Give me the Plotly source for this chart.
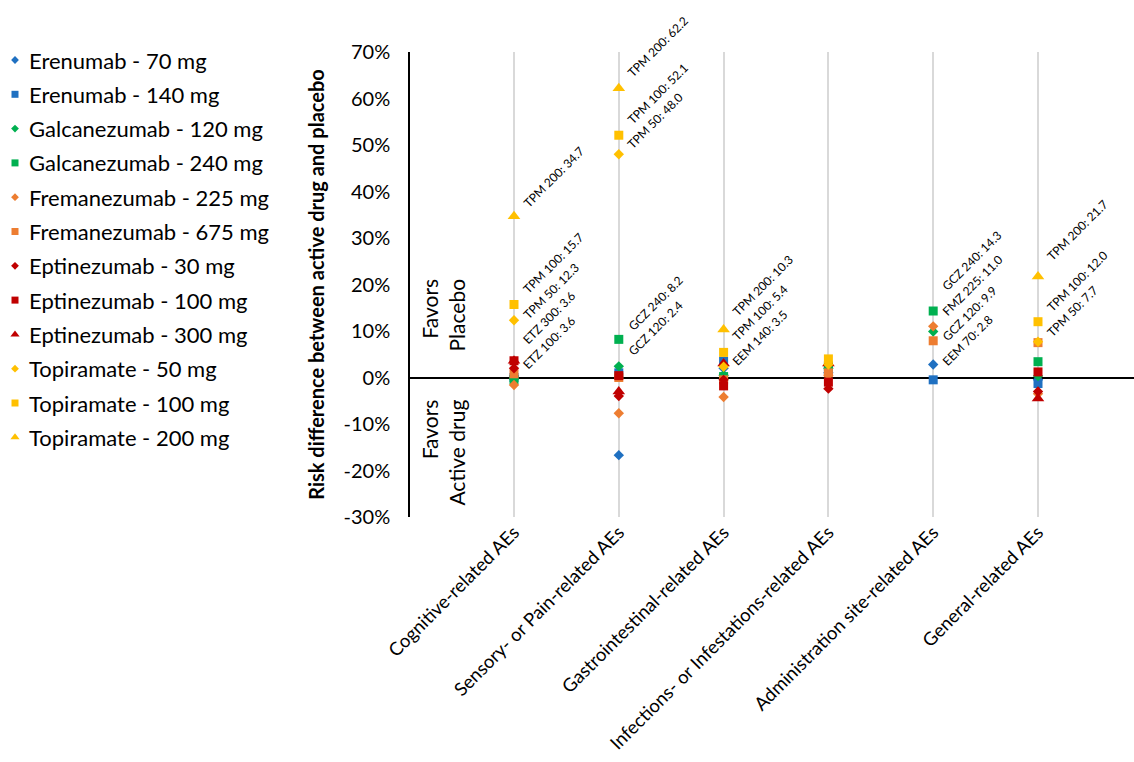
import plotly.graph_objects as go

# ---------------- data ----------------
categories = [
    "Cognitive-related AEs",
    "Sensory- or Pain-related AEs",
    "Gastrointestinal-related AEs",
    "Infections- or Infestations-related AEs",
    "Administration site-related AEs",
    "General-related AEs",
]

erenumab_70 = [0.3, -16.7, 2.0, 1.0, 2.8, -0.5]
erenumab_140 = [0.0, 1.0, 3.5, 1.5, -0.5, -1.3]
galcanezumab_120 = [-0.3, 2.4, 0.5, 2.0, 9.9, 0.3]
galcanezumab_240 = [-0.5, 8.2, 0.2, 2.5, 14.3, 3.4]
fremanezumab_225 = [-1.6, -7.7, -4.2, 0.5, 11.0, -3.5]
fremanezumab_675 = [0.8, 0.0, -0.5, 1.0, 7.9, 7.5]
eptinezumab_30 = [2.0, -4.0, -0.5, -2.4, None, -3.0]
eptinezumab_100 = [3.6, 0.4, -1.8, -1.0, None, 1.2]
eptinezumab_300 = [3.6, -3.0, 3.0, 3.0, None, -4.5]
topiramate_50 = [12.3, 48.0, 2.3, 2.8, None, 7.7]
topiramate_100 = [15.7, 52.1, 5.4, 4.0, None, 12.0]
topiramate_200 = [34.7, 62.2, 10.3, None, None, 21.7]

series_names = [
    "Erenumab - 70 mg", "Erenumab - 140 mg",
    "Galcanezumab - 120 mg", "Galcanezumab - 240 mg",
    "Fremanezumab - 225 mg", "Fremanezumab - 675 mg",
    "Eptinezumab - 30 mg", "Eptinezumab - 100 mg", "Eptinezumab - 300 mg",
    "Topiramate - 50 mg", "Topiramate - 100 mg", "Topiramate - 200 mg",
]
series_values = [
    erenumab_70, erenumab_140, galcanezumab_120, galcanezumab_240,
    fremanezumab_225, fremanezumab_675, eptinezumab_30, eptinezumab_100,
    eptinezumab_300, topiramate_50, topiramate_100, topiramate_200,
]
series_abbr = ["EEM 70", "EEM 140", "GCZ 120", "GCZ 240", "FMZ 225", "FMZ 675",
               "ETZ 30", "ETZ 100", "ETZ 300", "TPM 50", "TPM 100", "TPM 200"]

y_tick_values = [-30, -20, -10, 0, 10, 20, 30, 40, 50, 60, 70]
y_tick_labels = ["-30%", "-20%", "-10%", "0%", "10%", "20%", "30%", "40%", "50%", "60%", "70%"]

# labelled points: (category index, [series indices top->bottom], pixel offset)
label_blocks = [
    (0, [11], 3),
    (0, [10, 9, 8, 7], -14),
    (1, [11], 6),
    (1, [10, 9], 0),
    (1, [3, 2], 5),
    (2, [11, 10, 1], -10),
    (4, [3, 4, 2, 0], -7),
    (5, [11], 10),
    (5, [10, 9], -1),
]

# ---------------- styles ----------------
BLUE, GREEN, ORANGE, RED, YELLOW = "#1F70C1", "#00B050", "#ED7D31", "#C00000", "#FFC000"
styles = [
    (BLUE, "diamond", 8), (BLUE, "square", 9),
    (GREEN, "diamond", 8), (GREEN, "square", 9),
    (ORANGE, "diamond", 8), (ORANGE, "square", 9),
    (RED, "diamond", 8), (RED, "square", 9), (RED, "triangle-up", 11),
    (YELLOW, "diamond", 8), (YELLOW, "square", 9), (YELLOW, "triangle-up", 11),
]
legend_sizes = {"diamond": 6, "square": 7, "triangle-up": 8}
FONT = "Lato, Carlito, Calibri, sans-serif"
W, H = 1134, 762
PLOT_L, PLOT_T, PLOT_B = 410, 52, 517
LEG_X, LEG_TX, LEG_Y0, LEG_DY = 15, 27, 60, 34.3
LEG_W = 340

x_pos = list(range(1, len(categories) + 1))

fig = go.Figure()
for i, (name, vals) in enumerate(zip(series_names, series_values)):
    color, symbol, size = styles[i]
    fig.add_trace(go.Scatter(
        x=x_pos, y=vals, mode="markers", name=name, showlegend=False,
        marker=dict(color=color, symbol=symbol, size=size, line=dict(width=0)),
    ))

# manual legend (pixel-unit helper axes)
for i, name in enumerate(series_names):
    color, symbol, size = styles[i]
    yy = LEG_Y0 + LEG_DY * i
    fig.add_trace(go.Scatter(
        x=[LEG_X], y=[yy], xaxis="x2", yaxis="y2", mode="markers", showlegend=False,
        hoverinfo="skip",
        marker=dict(color=color, symbol=symbol, size=legend_sizes[symbol], line=dict(width=0)),
    ))
    fig.add_annotation(x=LEG_TX, y=yy, xref="x2", yref="y2", text=name, showarrow=False,
                       xanchor="left", yanchor="middle",
                       font=dict(family=FONT, size=22, color="#000000"))

# data labels
SPACING = 25
for cat, idxs, off in label_blocks:
    last = idxs[-1]
    base_val = series_values[last][cat]
    n = len(idxs)
    for j, si in enumerate(idxs):
        v = series_values[si][cat]
        fig.add_annotation(
            x=x_pos[cat], y=base_val, xref="x", yref="y",
            text=f"{series_abbr[si]}: {v:.1f}",
            textangle=-45, showarrow=False,
            xanchor="left", yanchor="bottom",
            xshift=3, yshift=off + SPACING * (n - 1 - j),
            font=dict(family=FONT, size=12, color="#000000"),
        )

# favors annotations
fig.add_annotation(x=0.32, y=13.5, xref="x", yref="y", text="Favors<br>Placebo",
                   textangle=-90, showarrow=False, align="right",
                   font=dict(family=FONT, size=21, color="#000000"))
fig.add_annotation(x=0.32, y=-16.2, xref="x", yref="y", text="Favors<br>Active drug",
                   textangle=-90, showarrow=False, align="right",
                   font=dict(family=FONT, size=21, color="#000000"))

fig.update_layout(
    width=W, height=H,
    margin=dict(l=0, r=0, t=0, b=0, pad=0, autoexpand=False),
    plot_bgcolor="white", paper_bgcolor="white",
    font=dict(family=FONT, color="#000000"),
    showlegend=False,
    xaxis=dict(
        domain=[PLOT_L / W, 1.0],
        range=[0.0076, 6.916], tickmode="array", tickvals=x_pos, ticktext=categories,
        tickangle=-45, showgrid=True, gridcolor="#D9D9D9", gridwidth=2,
        zeroline=False, showline=False, ticks="", automargin=False,
        tickfont=dict(family=FONT, size=18.5, color="#000000"),
    ),
    yaxis=dict(
        domain=[(H - PLOT_B) / H, (H - PLOT_T) / H],
        range=[-30, 70], tickmode="array", tickvals=y_tick_values, ticktext=y_tick_labels,
        showgrid=False, zeroline=True, zerolinecolor="#000000", zerolinewidth=1.5,
        showline=True, linecolor="#000000", linewidth=1.5, automargin=False,
        ticks="outside", ticklen=14, tickcolor="rgba(0,0,0,0)",
        tickfont=dict(family=FONT, size=20, color="#000000"),
        title=dict(text="<b>Risk difference between active drug and placebo</b>",
                   font=dict(family=FONT, size=20, color="#000000"), standoff=14),
    ),
    xaxis2=dict(domain=[0, LEG_W / W], range=[0, LEG_W], visible=False, fixedrange=True,
                anchor="y2"),
    yaxis2=dict(domain=[0, 1], range=[H, 0], visible=False, fixedrange=True,
                anchor="x2"),
)

fig.write_html("out.html", config={"displayModeBar": False},
               post_script="document.body.style.margin='0';")
